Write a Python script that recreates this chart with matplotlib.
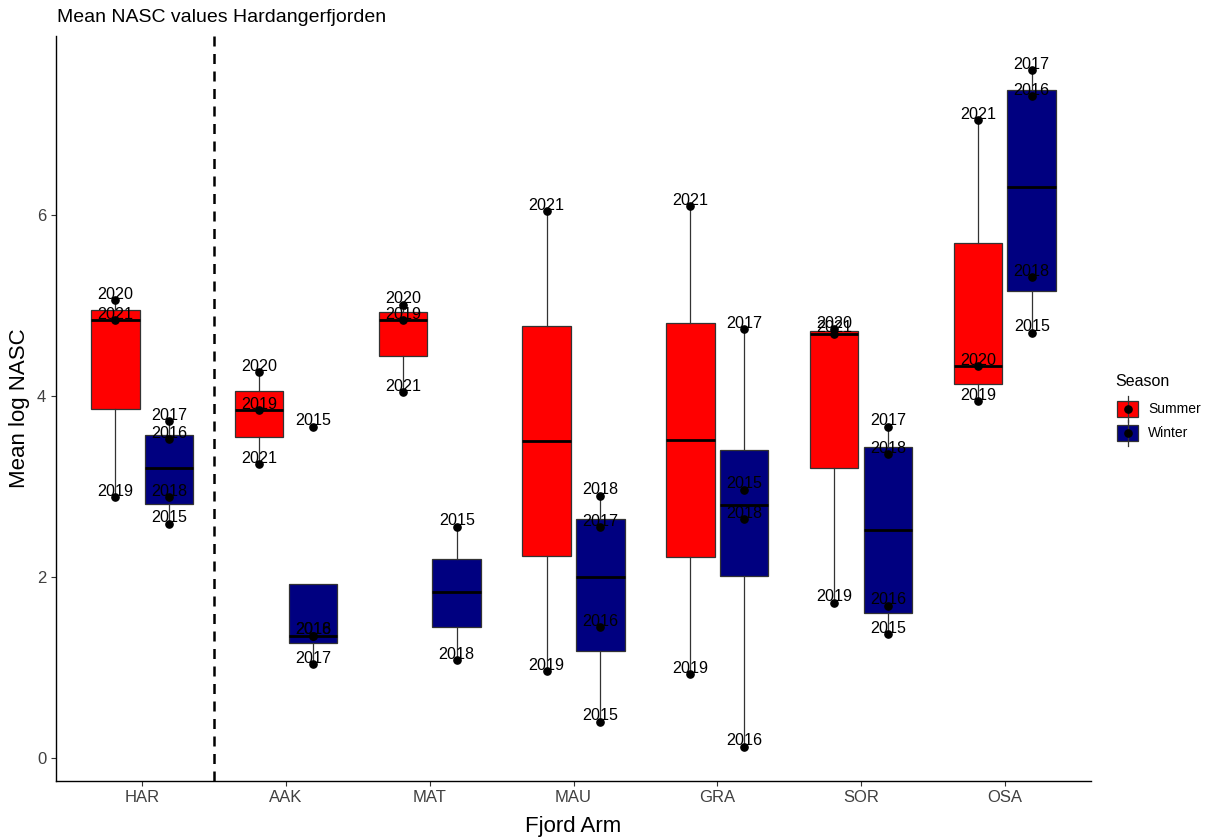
import numpy as np
import matplotlib
matplotlib.use("Agg")
import matplotlib.pyplot as plt
from matplotlib.patches import Rectangle
from matplotlib.lines import Line2D

plt.rcParams["font.family"] = ["Liberation Sans", "DejaVu Sans"]

# Fjord arms along the x axis and the two seasons dodged within each arm
arms = ["HAR", "AAK", "MAT", "MAU", "GRA", "SOR", "OSA"]
seasons = ["Summer", "Winter"]
season_colors = {"Summer": "#FF0000", "Winter": "#000080"}

# Yearly mean log NASC values (labelled points)
point_arm = ["HAR", "HAR", "HAR", "AAK", "AAK", "AAK", "MAT", "MAT", "MAT",
             "MAU", "MAU", "GRA", "GRA", "SOR", "SOR", "SOR", "OSA", "OSA", "OSA",
             "HAR", "HAR", "HAR", "HAR", "AAK", "AAK", "AAK", "AAK", "MAT", "MAT",
             "MAU", "MAU", "MAU", "MAU", "GRA", "GRA", "GRA", "GRA",
             "SOR", "SOR", "SOR", "SOR", "OSA", "OSA", "OSA", "OSA"]
point_season = ["Summer"] * 19 + ["Winter"] * 26
point_year = [2019, 2020, 2021, 2019, 2020, 2021, 2019, 2020, 2021,
              2019, 2021, 2019, 2021, 2019, 2020, 2021, 2019, 2020, 2021,
              2015, 2016, 2017, 2018, 2015, 2016, 2017, 2018, 2015, 2018,
              2015, 2016, 2017, 2018, 2015, 2016, 2017, 2018,
              2015, 2016, 2017, 2018, 2015, 2016, 2017, 2018]
point_value = [2.88, 5.06, 4.84, 3.84, 4.265, 3.245, 4.84, 5.01, 4.04,
               0.96, 6.04, 0.925, 6.10, 1.716, 4.74, 4.69, 3.94, 4.33, 7.05,
               2.59, 3.52, 3.72, 2.88, 3.66, 1.35, 1.04, 1.35, 2.555, 1.08,
               0.40, 1.447, 2.55, 2.90, 2.963, 0.125, 4.737, 2.638,
               1.366, 1.683, 3.66, 3.355, 4.70, 7.315, 7.60, 5.31]

# Values that enter the box statistics but carry no point or label
extra_arm = ["MAT", "MAT", "MAU", "GRA"]
extra_season = ["Winter", "Winter", "Summer", "Summer"]
extra_value = [1.575, 2.087, 3.506, 3.517]

dodge = 0.1875
box_width = 0.3375
offsets = {"Summer": -dodge, "Winter": dodge}

fig = plt.figure(figsize=(12.1, 8.39), dpi=100)
W, H = 1210, 839
ax = fig.add_axes([56 / W, 1 - 780.5 / H, (1091 - 56) / W, (780.5 - 36.4) / H])

edge = "#333333"
for s in seasons:
    data, pos = [], []
    for i, a in enumerate(arms):
        vals = [v for v, pa, ps in zip(point_value, point_arm, point_season) if pa == a and ps == s]
        vals += [v for v, ea, es in zip(extra_value, extra_arm, extra_season) if ea == a and es == s]
        data.append(vals)
        pos.append(i + 1 + offsets[s])
    ax.boxplot(data, positions=pos, widths=box_width, whis=1.5, patch_artist=True,
               showfliers=False, showcaps=False, manage_ticks=False,
               boxprops=dict(facecolor=season_colors[s], edgecolor=edge, linewidth=0.9),
               whiskerprops=dict(color=edge, linewidth=0.9),
               medianprops=dict(color="black", linewidth=2.0),
               zorder=2)

# Points and year labels
for a, s, y, v in zip(point_arm, point_season, point_year, point_value):
    x = arms.index(a) + 1 + offsets[s]
    ax.plot(x, v, "o", color="black", markersize=5.2, zorder=4)
    ax.text(x, v + 0.015, str(y), ha="center", va="baseline", fontsize=11.6,
            color="black", zorder=5)

ax.axvline(1.5, color="black", linestyle=(0, (4, 3)), linewidth=1.8, zorder=1)

ax.set_xlim(0.4, 7.6)
ax.set_ylim(-0.249, 7.974)
ax.set_xticks(range(1, len(arms) + 1))
ax.set_xticklabels(arms)
ax.set_yticks([0, 2, 4, 6])
ax.tick_params(axis="both", labelsize=12, labelcolor="#404040", color="#333333",
               length=3.5, width=0.8)
for side in ["top", "right"]:
    ax.spines[side].set_visible(False)
for side in ["left", "bottom"]:
    ax.spines[side].set_linewidth(1.0)
    ax.spines[side].set_color("black")

ax.set_xlabel("Fjord Arm", fontsize=16, labelpad=8)
ax.set_ylabel("Mean log NASC", fontsize=16, labelpad=5)
fig.text(57 / W, 1 - 18 / H, "Mean NASC values Hardangerfjorden", fontsize=14,
         ha="left", va="center")

# Legend drawn in figure pixels
def fx(x):
    return x / W

def fy(y):
    return 1 - y / H

fig.text(fx(1115), fy(381.5), "Season", fontsize=11.5, ha="left", va="center")
for s, cy in zip(seasons, [408.7, 433.3]):
    fig.add_artist(Line2D([fx(1127.5), fx(1127.5)], [fy(cy - 13), fy(cy + 13)],
                          color=edge, linewidth=0.9, transform=fig.transFigure))
    fig.add_artist(Rectangle((fx(1116.7), fy(cy + 8)), fx(21.6), 16 / H,
                             facecolor=season_colors[s], edgecolor=edge, linewidth=0.9,
                             transform=fig.transFigure))
    fig.add_artist(Line2D([fx(1127.5)], [fy(cy)], marker="o", color="black",
                          markersize=5.2, transform=fig.transFigure))
    fig.text(fx(1148), fy(cy), s, fontsize=10, ha="left", va="center")

fig.savefig("out.png", dpi=100)
